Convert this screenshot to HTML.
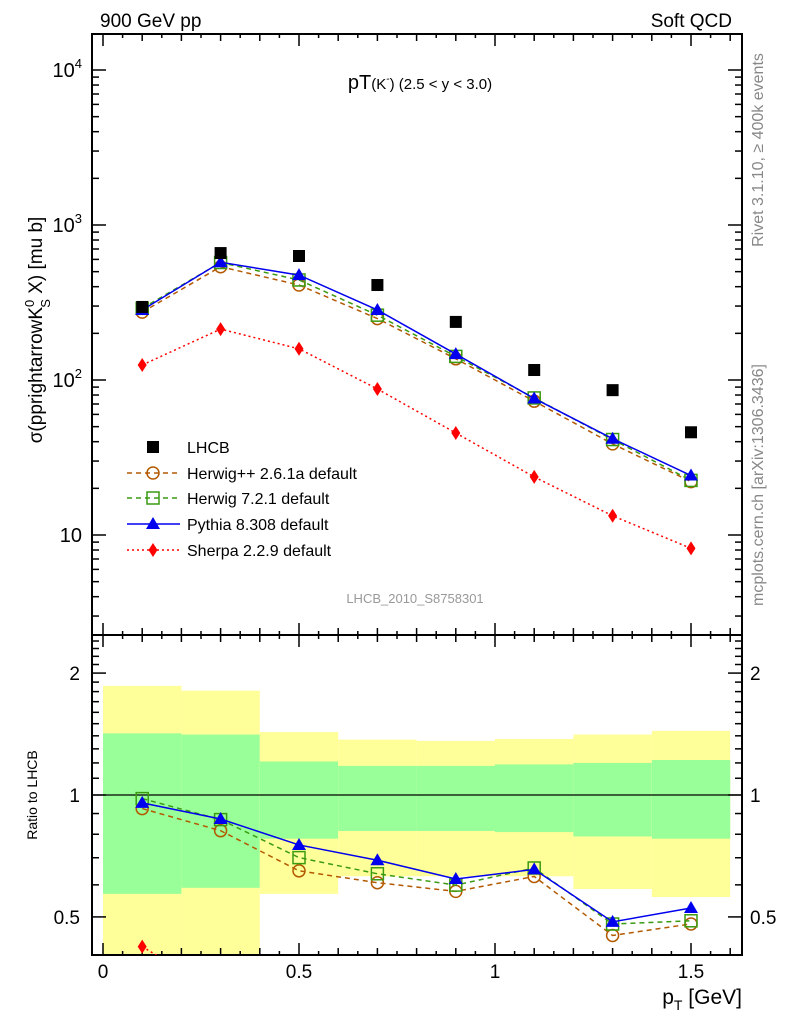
<!DOCTYPE html>
<html><head><meta charset="utf-8"><style>
html,body{margin:0;padding:0;background:#fff;width:786px;height:1024px;overflow:hidden;}
svg{display:block;font-family:"Liberation Sans",sans-serif;}
</style></head><body>
<svg id="chart" width="786" height="1024" viewBox="0 0 786 1024" xmlns="http://www.w3.org/2000/svg">
<text x="100" y="27" font-size="19">900 GeV pp</text>
<text x="732" y="27" font-size="19" text-anchor="end">Soft QCD</text>
<text transform="translate(763,150) rotate(-90)" font-size="16" fill="#888" text-anchor="middle">Rivet 3.1.10, ≥ 400k events</text>
<text transform="translate(763,485) rotate(-90)" font-size="16" fill="#888" text-anchor="middle">mcplots.cern.ch [arXiv:1306.3436]</text>
<text x="420" y="89" font-size="20" text-anchor="middle">pT<tspan font-size="15">(K</tspan><tspan font-size="10" dy="-7">-</tspan><tspan font-size="15" dy="7">) (2.5 &lt; y &lt; 3.0)</tspan></text>
<text transform="translate(42,330) rotate(-90)" font-size="19" text-anchor="middle">σ(pprightarrowK<tspan font-size="13" dy="-8">0</tspan><tspan font-size="13" dx="-8" dy="16">S</tspan><tspan dy="-8"> X) [mu b]</tspan></text>
<text x="415" y="603" font-size="13" fill="#999" text-anchor="middle">LHCB_2010_S8758301</text>
<text transform="translate(37,795) rotate(-90)" font-size="14" text-anchor="middle">Ratio to LHCB</text>
<text x="742" y="1004" font-size="21" text-anchor="end">p<tspan font-size="14" dy="6">T</tspan><tspan dy="-6"> [GeV]</tspan></text>
<g id="bands"></g>
<g id="axes"></g>
<g id="series"></g>
<g id="legend"></g>
</svg>
<script>
const xCenters=[0.1,0.3,0.5,0.7,0.9,1.1,1.3,1.5];
const binEdges=[0,0.2,0.4,0.6,0.8,1.0,1.2,1.4,1.6];
const lhcb=[296,659,631,410,237,116,86,46];
const pythia=[283,575,475,283,147,76,41.8,24.2];
const herwig7=[290,573,442,262,142,76.6,41.3,22.5];
const herwigpp=[274,538,410,249,137,73,38.7,22.1];
const sherpa=[125,213,159,87.5,45.5,23.7,13.3,8.2];
const yellowHi=[1.86,1.81,1.43,1.37,1.36,1.375,1.41,1.44];
const yellowLo=[0.3,0.3,0.57,0.63,0.63,0.63,0.586,0.56];
const greenHi=[1.42,1.41,1.21,1.18,1.18,1.19,1.2,1.22];
const greenLo=[0.57,0.59,0.78,0.815,0.815,0.81,0.79,0.78];
const mainTicks=["10","10²","10³","10⁴"];
const ratioTicks=[0.5,1,2];
const xTicks=[0,0.5,1,1.5];

const NS="http://www.w3.org/2000/svg";
const L=92,R=742,T=34,MB=635,RB=955;
const X=v=>103+v*392;
const Y=v=>535-(Math.log10(v)-1)*155;
const YR=v=>795-Math.log10(v)*405;
function mk(tag,attrs,parent){const e=document.createElementNS(NS,tag);for(const k in attrs)e.setAttribute(k,attrs[k]);parent.appendChild(e);return e;}
const bands=document.getElementById('bands'),axes=document.getElementById('axes'),series=document.getElementById('series'),legend=document.getElementById('legend');
const clampR=v=>Math.min(RB,Math.max(MB,YR(v)));
for(let i=0;i<xCenters.length;i++){
  const x0=X(binEdges[i]),x1=X(binEdges[i+1]);
  const y=mk('rect',{x:x0,y:clampR(yellowHi[i]),width:x1-x0,height:clampR(yellowLo[i])-clampR(yellowHi[i]),fill:'#ffff99'},bands);
  
  
  const g=mk('rect',{x:x0,y:clampR(greenHi[i]),width:x1-x0,height:clampR(greenLo[i])-clampR(greenHi[i]),fill:'#99ff99'},bands);
  
  
}
for(const [t,b] of [[T,MB],[MB,RB]]){
  const f=mk('rect',{x:L,y:t,width:R-L,height:b-t,fill:'none',stroke:'#000','stroke-width':2},axes);
  
  
}
mk('line',{x1:L,x2:R,y1:YR(1),y2:YR(1),stroke:'#000','stroke-width':1.3},axes);
for(let k=0;k<=32;k++){const v=k*0.05;const x=X(v);if(x>=R)break;
  const len=k%10==0?12:(k%2==0?7:4);
  for(const [y,d] of [[T,1],[MB,-1],[MB,1],[RB,-1]]) mk('line',{x1:x,x2:x,y1:y,y2:y+d*len,stroke:'#000','stroke-width':1.5},axes);
}
xTicks.forEach(v=>{const t=mk('text',{x:X(v),y:978,'font-size':19,'text-anchor':'middle'},axes);t.textContent=String(v);
  
  });
for(let d=0;d<5;d++){for(let m=1;m<10;m++){const v=m*Math.pow(10,d);const y=Y(v);if(y<T||y>MB)continue;const len=m==1?14:7;
  mk('line',{x1:L,x2:L+len,y1:y,y2:y,stroke:'#000','stroke-width':1.5},axes);
  mk('line',{x1:R,x2:R-len,y1:y,y2:y,stroke:'#000','stroke-width':1.5},axes);}}
mainTicks.forEach((s,i)=>{const v=Math.pow(10,i+1);const t=mk('text',{x:82,y:Y(v)+7,'font-size':20,'text-anchor':'end'},axes);
  if(i==0)t.textContent='10';else{t.textContent='10';const sp=mk('tspan',{dy:-9,'font-size':13},t);sp.textContent=String(i+1);}
  
  });
for(let v=0.4;v<=2.5;v+=0.1){const vv=Math.round(v*10)/10;const y=YR(vv);if(y<MB||y>RB)continue;const len=(vv==0.5||vv==1||vv==2)?14:7;
  mk('line',{x1:L,x2:L+len,y1:y,y2:y,stroke:'#000','stroke-width':1.5},axes);
  mk('line',{x1:R,x2:R-len,y1:y,y2:y,stroke:'#000','stroke-width':1.5},axes);}
ratioTicks.forEach(v=>{for(const [x,a] of [[80,'end'],[750,'start']]){const t=mk('text',{x:x,y:YR(v)+7,'font-size':19,'text-anchor':a},axes);t.textContent=String(v);
  
  }});
function marker(type,x,y,color,parent){
  if(type=='sq') return mk('rect',{x:x-6,y:y-6,width:12,height:12,fill:'#000'},parent);
  if(type=='circ') return mk('circle',{cx:x,cy:y,r:6,fill:'none',stroke:color,'stroke-width':1.5},parent);
  if(type=='osq') return mk('rect',{x:x-6,y:y-6,width:12,height:12,fill:'none',stroke:color,'stroke-width':1.5},parent);
  if(type=='tri') return mk('polygon',{points:`${x},${y-7} ${x-7},${y+5} ${x+7},${y+5}`,fill:color},parent);
  if(type=='dia') return mk('polygon',{points:`${x},${y-7} ${x-4.5},${y} ${x},${y+7} ${x+4.5},${y}`,fill:color},parent);
}
const mcs=[
 {name:'herwigpp',vals:herwigpp,color:'#b35900',dash:'5,4',m:'circ',label:'Herwig++ 2.6.1a default'},
 {name:'herwig7',vals:herwig7,color:'#3a9a10',dash:'5,4',m:'osq',label:'Herwig 7.2.1 default'},
 {name:'pythia',vals:pythia,color:'#0000ee',dash:'',m:'tri',label:'Pythia 8.308 default'},
 {name:'sherpa',vals:sherpa,color:'#ff0000',dash:'2,3',m:'dia',label:'Sherpa 2.2.9 default'}];
const clip=mk('clipPath',{id:'rclip'},series);mk('rect',{x:L,y:MB,width:R-L,height:RB-MB},clip);
mcs.forEach(s=>{
  const pts=s.vals.map((v,i)=>X(xCenters[i])+','+Y(v)).join(' ');
  const pl=mk('polyline',{points:pts,fill:'none',stroke:s.color,'stroke-width':1.5,'stroke-dasharray':s.dash},series);
  
  
  s.vals.forEach((v,i)=>{const e=marker(s.m,X(xCenters[i]),Y(v),s.color,series);
    
    });
  const g=mk('g',{'clip-path':'url(#rclip)'},series);
  const rp=s.vals.map((v,i)=>X(xCenters[i])+','+YR(v/lhcb[i])).join(' ');
  const rl=mk('polyline',{points:rp,fill:'none',stroke:s.color,'stroke-width':1.5,'stroke-dasharray':s.dash},g);
  
  
  s.vals.forEach((v,i)=>{const e=marker(s.m,X(xCenters[i]),YR(v/lhcb[i]),s.color,g);
    
    });
});
lhcb.forEach((v,i)=>{const e=marker('sq',X(xCenters[i]),Y(v),'#000',series);
  
  });
const ly=[447,473,498,524,550];
const le=mk('g',{},legend);


marker('sq',153,ly[0],'#000',le);
let t=mk('text',{x:187,y:ly[0]+6,'font-size':16},le);t.textContent='LHCB';
mcs.forEach((s,i)=>{const g=mk('g',{},legend);
  
  
  mk('line',{x1:127,x2:180,y1:ly[i+1],y2:ly[i+1],stroke:s.color,'stroke-width':1.5,'stroke-dasharray':s.dash},g);
  marker(s.m,153,ly[i+1],s.color,g);
  const tt=mk('text',{x:187,y:ly[i+1]+6,'font-size':16},g);tt.textContent=s.label;});
</script>
</body></html>
